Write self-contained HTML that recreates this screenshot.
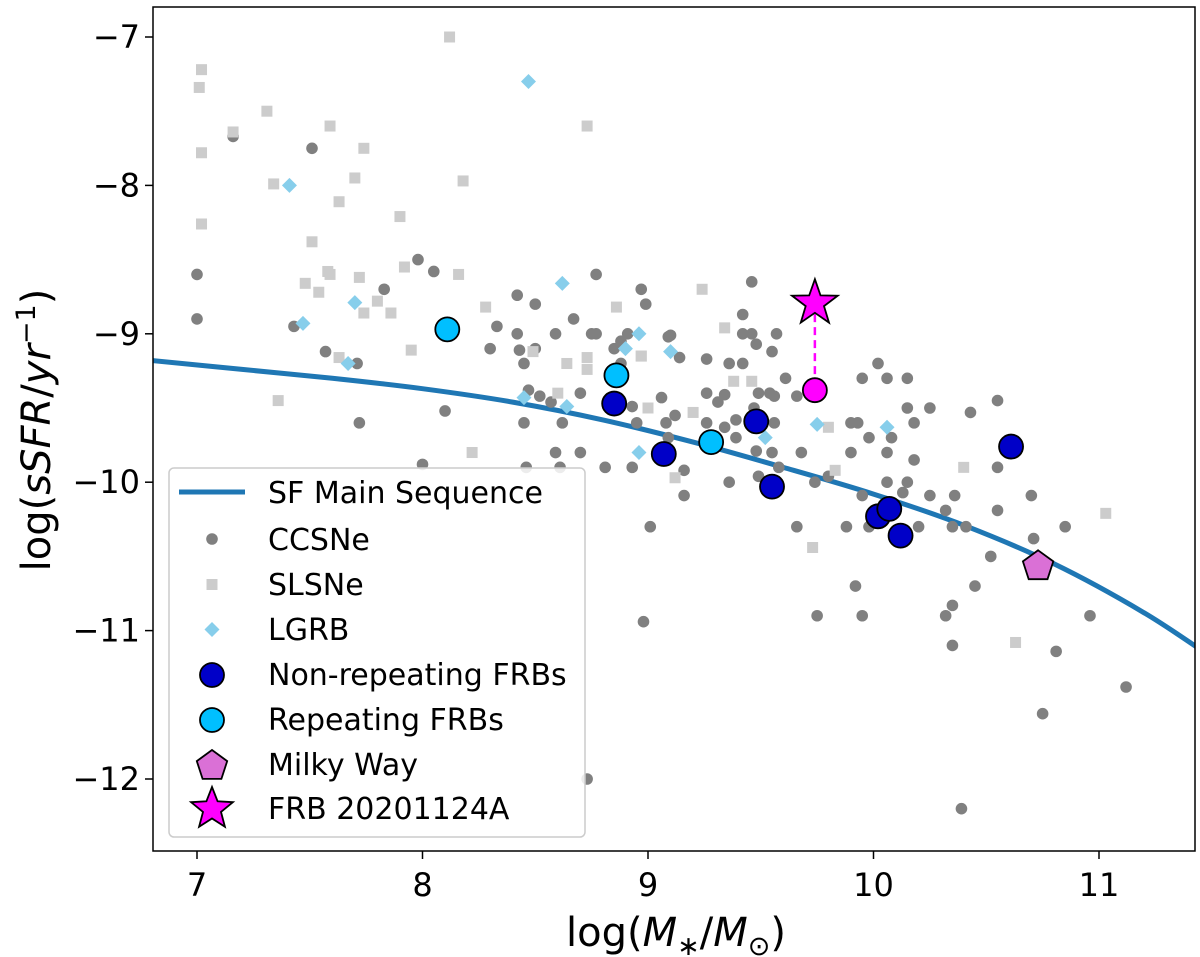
<!DOCTYPE html>
<html><head><meta charset="utf-8"><style>
html,body{margin:0;padding:0;background:#fff;}
svg{display:block;font-family:"DejaVu Sans","Liberation Sans",sans-serif;}
</style></head><body>
<svg id="chart" width="1200" height="957" viewBox="0 0 1200 957"></svg>
<script>
const ccsneX=[7.16,7.51,7.0,7.0,7.98,8.05,7.83,7.43,7.57,7.71,8.10,7.72,8.77,8.42,8.50,8.97,8.99,8.67,8.33,8.42,8.59,8.75,8.77,8.91,9.09,8.30,8.43,8.50,8.45,8.85,8.88,8.88,8.47,8.52,8.57,8.70,8.93,9.06,8.45,8.62,8.95,9.08,8.70,
9.46,9.42,9.42,9.46,9.57,9.48,9.55,9.10,9.14,9.26,9.36,9.42,9.61,9.26,9.34,9.31,9.49,9.54,9.56,9.66,9.12,9.26,9.47,9.56,9.34,9.39,9.39,9.09,9.48,9.55,9.68,9.58,8.93,9.16,9.16,9.36,9.49,9.74,9.80,9.01,9.66,8.98,9.75,
9.95,10.02,10.06,10.15,9.90,9.93,10.15,10.25,10.18,9.98,10.08,9.90,10.06,10.18,10.06,10.15,10.13,9.95,10.25,10.36,10.32,9.88,9.98,10.20,10.35,10.41,10.43,10.55,10.55,10.70,10.55,10.85,10.71,10.52,9.92,10.45,10.35,10.32,9.95,10.35,10.81,10.96,11.12,10.75,10.39,
8.0,8.59,8.61,8.46,8.81,8.73];
const ccsneY=[-7.67,-7.75,-8.60,-8.90,-8.50,-8.58,-8.70,-8.95,-9.12,-9.20,-9.52,-9.60,-8.60,-8.74,-8.80,-8.70,-8.80,-8.90,-8.95,-9.0,-9.0,-9.0,-9.0,-9.0,-9.02,-9.10,-9.11,-9.10,-9.20,-9.10,-9.05,-9.20,-9.38,-9.42,-9.46,-9.40,-9.49,-9.43,-9.60,-9.60,-9.60,-9.60,-9.80,
-8.65,-8.87,-9.0,-9.0,-9.0,-9.07,-9.12,-9.01,-9.16,-9.17,-9.20,-9.20,-9.30,-9.40,-9.41,-9.46,-9.40,-9.40,-9.42,-9.42,-9.55,-9.60,-9.50,-9.60,-9.63,-9.58,-9.70,-9.70,-9.79,-9.80,-9.80,-9.90,-9.90,-9.92,-10.09,-10.0,-9.96,-10.0,-9.96,-10.30,-10.30,-10.94,-10.90,
-9.30,-9.20,-9.30,-9.30,-9.60,-9.60,-9.50,-9.50,-9.60,-9.70,-9.70,-9.80,-9.80,-9.85,-10.0,-10.0,-10.07,-10.09,-10.09,-10.09,-10.19,-10.30,-10.30,-10.30,-10.30,-10.30,-9.53,-9.45,-9.90,-10.09,-10.19,-10.30,-10.38,-10.50,-10.70,-10.70,-10.83,-10.90,-10.90,-11.10,-11.14,-10.90,-11.38,-11.56,-12.20,
-9.88,-9.80,-9.90,-9.90,-9.90,-12.0];
const slsneX=[8.12,7.02,7.01,7.31,7.59,7.16,8.73,7.02,7.74,7.34,7.70,8.18,7.63,7.90,7.02,7.51,7.92,8.16,7.58,7.59,7.72,7.48,7.54,7.80,7.74,7.86,8.28,8.86,7.95,7.63,8.49,8.64,8.73,8.73,8.97,7.36,8.60,9.00,8.22,
9.24,9.34,8.97,9.38,9.46,9.20,9.80,9.12,9.83,10.40,11.03,9.73,10.63];
const slsneY=[-7.0,-7.22,-7.34,-7.50,-7.60,-7.64,-7.60,-7.78,-7.75,-7.99,-7.95,-7.97,-8.11,-8.21,-8.26,-8.38,-8.55,-8.60,-8.58,-8.60,-8.62,-8.66,-8.72,-8.78,-8.86,-8.86,-8.82,-8.82,-9.11,-9.16,-9.12,-9.20,-9.16,-9.24,-9.15,-9.45,-9.40,-9.50,-9.80,
-8.70,-8.96,-9.15,-9.32,-9.32,-9.53,-9.63,-9.97,-9.92,-9.90,-10.21,-10.44,-11.08];
const lgrbX=[8.47,7.41,8.62,7.70,7.47,7.67,8.96,8.90,8.45,8.64,8.96,9.10,9.52,9.75,10.06];
const lgrbY=[-7.30,-8.0,-8.66,-8.79,-8.93,-9.20,-9.0,-9.10,-9.43,-9.49,-9.80,-9.12,-9.70,-9.61,-9.63];
const nonRepX=[8.85,9.07,9.48,9.55,10.02,10.07,10.12,10.61];
const nonRepY=[-9.47,-9.81,-9.59,-10.03,-10.23,-10.18,-10.36,-9.76];
const repX=[8.11,8.86,9.28];
const repY=[-8.97,-9.28,-9.73];
const mwX=[10.73]; const mwY=[-10.56];
const frbX=[9.74]; const frbStarY=[-8.78]; const frbCircY=[-9.38];
const msX=[6.8,7.2,7.6,8.0,8.4,8.8,9.2,9.6,10.0,10.4,10.8,11.2,11.5];
const msY=[-9.18,-9.24,-9.30,-9.37,-9.46,-9.58,-9.73,-9.90,-10.08,-10.29,-10.55,-10.88,-11.18];
const xTicks=[7,8,9,10,11];
const yTicks=[-7,-8,-9,-10,-11,-12];

const NS='http://www.w3.org/2000/svg';
const svg=document.getElementById('chart');
const L=153,R=1195,T=7,B=851;
const X=v=>197+(v-7)*225.5;
const Y=v=>37+(-7-v)*148.4;
function mk(tag,attrs,parent){const e=document.createElementNS(NS,tag);for(const k in attrs)e.setAttribute(k,attrs[k]);(parent||svg).appendChild(e);return e;}

const clip=mk('clipPath',{id:'pc'});mk('rect',{x:L,y:T,width:R-L,height:B-T},clip);
const plot=mk('g',{'clip-path':'url(#pc)'});



const P=msX.map((v,i)=>[X(v),Y(msY[i])]);
let d='M'+P[0][0].toFixed(1)+','+P[0][1].toFixed(1);
for(let i=0;i<P.length-1;i++){const p0=P[Math.max(0,i-1)],p1=P[i],p2=P[i+1],p3=P[Math.min(P.length-1,i+2)];
const c1=[p1[0]+(p2[0]-p0[0])/6,p1[1]+(p2[1]-p0[1])/6],c2=[p2[0]-(p3[0]-p1[0])/6,p2[1]-(p3[1]-p1[1])/6];
d+=`C${c1[0].toFixed(1)},${c1[1].toFixed(1)} ${c2[0].toFixed(1)},${c2[1].toFixed(1)} ${p2[0].toFixed(1)},${p2[1].toFixed(1)}`;}
const ms=mk('path',{d:d,fill:'none',stroke:'#1f77b4','stroke-width':5,'stroke-linejoin':'round'},plot);



ccsneX.forEach((v,i)=>{const c=mk('circle',{cx:X(v),cy:Y(ccsneY[i]),r:5.8,fill:'#808080'},plot);

});
slsneX.forEach((v,i)=>{const c=mk('rect',{x:X(v)-5.5,y:Y(slsneY[i])-5.5,width:11,height:11,fill:'#cccccc'},plot);

});
lgrbX.forEach((v,i)=>{const cx=X(v),cy=Y(lgrbY[i]);const c=mk('polygon',{points:`${cx},${cy-7.5} ${cx+7.5},${cy} ${cx},${cy+7.5} ${cx-7.5},${cy}`,fill:'#87ceeb'},plot);

});
repX.forEach((v,i)=>{const c=mk('circle',{cx:X(v),cy:Y(repY[i]),r:12,fill:'#00bfff',stroke:'#000','stroke-width':1.8},plot);

});
nonRepX.forEach((v,i)=>{const c=mk('circle',{cx:X(v),cy:Y(nonRepY[i]),r:12,fill:'#0000c8',stroke:'#000','stroke-width':1.8},plot);

});

function penta(cx,cy,r){let p=[];for(let k=0;k<5;k++){const a=-Math.PI/2+k*2*Math.PI/5;p.push((cx+r*Math.cos(a)).toFixed(1)+','+(cy+r*Math.sin(a)).toFixed(1));}return p.join(' ');}
function star(cx,cy,r){let p=[];for(let k=0;k<10;k++){const a=-Math.PI/2+k*Math.PI/5;const rr=k%2?r*0.4:r;p.push((cx+rr*Math.cos(a)).toFixed(1)+','+(cy+rr*Math.sin(a)).toFixed(1));}return p.join(' ');}
mwX.forEach((v,i)=>{const c=mk('polygon',{points:penta(X(v),Y(mwY[i])+1,16),fill:'#da70d6',stroke:'#000','stroke-width':1.8},plot);

});
frbX.forEach((v,i)=>{
const ln=mk('line',{x1:X(v),y1:Y(frbStarY[i]),x2:X(v),y2:Y(frbCircY[i]),stroke:'#ff00ff','stroke-width':2.5,'stroke-dasharray':'8,5'},plot);


const c=mk('circle',{cx:X(v),cy:Y(frbCircY[i]),r:12,fill:'#ff00ff',stroke:'#000','stroke-width':1.8},plot);


const s=mk('polygon',{points:star(X(v),Y(frbStarY[i])+2,24),fill:'#ff00ff',stroke:'#000','stroke-width':1.8},plot);

});

const fr=mk('rect',{x:L,y:T,width:R-L,height:B-T,fill:'none',stroke:'#000','stroke-width':1.5});



xTicks.forEach(v=>{const x=X(v);mk('line',{x1:x,y1:B,x2:x,y2:B+8,stroke:'#000','stroke-width':1.5});
const t=mk('text',{x:x,y:B+45,'text-anchor':'middle','font-size':32,fill:'#000'});t.textContent=v;

});
yTicks.forEach(v=>{const y=Y(v);mk('line',{x1:L-8,y1:y,x2:L,y2:y,stroke:'#000','stroke-width':1.5});
const t=mk('text',{x:L-13,y:y+11,'text-anchor':'end','font-size':32,fill:'#000'});t.textContent='\u2212'+Math.abs(v);

});

const xt=mk('text',{x:676,y:946,'text-anchor':'middle','font-size':40});


xt.innerHTML='log(<tspan font-style="italic">M</tspan><tspan font-size="27" dy="9">∗</tspan><tspan dy="-9">/</tspan><tspan font-style="italic">M</tspan><tspan font-size="27" dy="9">⊙</tspan><tspan dy="-9">)</tspan>';
const yt=mk('text',{transform:'translate(50,430) rotate(-90)','text-anchor':'middle','font-size':40});


yt.innerHTML='log(<tspan font-style="italic">sSFR</tspan>/<tspan font-style="italic">yr</tspan><tspan font-size="27" dy="-15">−1</tspan><tspan dy="15">)</tspan>';

const g=mk('g',{});


g.innerHTML=`
<rect x="169" y="468" width="416" height="369" rx="5" fill="#fff" fill-opacity="0.85" stroke="#cccccc" stroke-width="1.5"/>
<line x1="179" y1="492" x2="245" y2="492" stroke="#1f77b4" stroke-width="5"/>
<circle cx="212" cy="539" r="5.8" fill="#808080"/>
<rect x="206.5" y="579" width="11" height="11" fill="#cccccc"/>
<polygon points="212,622 219.5,629.5 212,637 204.5,629.5" fill="#87ceeb"/>
<circle cx="212" cy="675" r="12" fill="#0000c8" stroke="#000" stroke-width="1.8"/>
<circle cx="212" cy="720" r="12" fill="#00bfff" stroke="#000" stroke-width="1.8"/>
<polygon points="212,750 227.2,761.1 221.4,778.9 202.6,778.9 196.8,761.1" fill="#da70d6" stroke="#000" stroke-width="1.8"/>
<polygon points="212,787 217.6,801.3 232.9,802.2 221,811.9 224.9,826.8 212,818.5 199.1,826.8 203,811.9 191.1,802.2 206.4,801.3" fill="#ff00ff" stroke="#000" stroke-width="1.8"/>
<g font-size="30" fill="#000">
<text x="268" y="503">SF Main Sequence</text>
<text x="268" y="550">CCSNe</text>
<text x="268" y="595">SLSNe</text>
<text x="268" y="640">LGRB</text>
<text x="268" y="685">Non-repeating FRBs</text>
<text x="268" y="730">Repeating FRBs</text>
<text x="268" y="775">Milky Way</text>
<text x="268" y="819">FRB 20201124A</text>
</g>`;
</script>
</body></html>
